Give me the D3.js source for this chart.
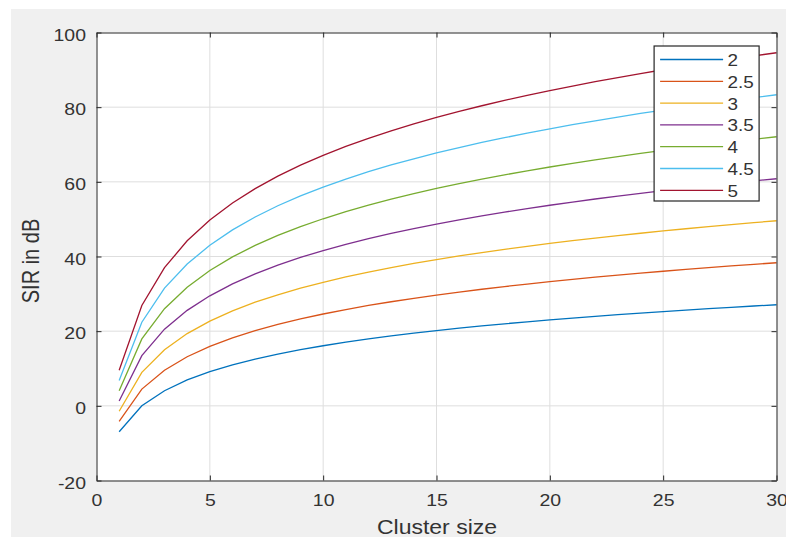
<!DOCTYPE html>
<html>
<head>
<meta charset="utf-8">
<script src="https://cdn.jsdelivr.net/npm/d3@7"></script>
<style>
    body { margin: 0; background: #fff; }
    svg { display: block; }
    text { font-family: "Liberation Sans", Arial, sans-serif; fill: #333; }
    .axis path, .axis line { stroke: #262626; }
    .grid line { stroke: #dedede; }
</style>
</head>
<body>
<svg id="chart"></svg>
<script>
// cluster sizes on the x axis
const clusterSizes = d3.range(1, 31)

// path loss exponents (legend labels)
const exponents = ['2', '2.5', '3', '3.5', '4', '4.5', '5']

// SIR in dB, one array per exponent
const sir2 = [-6.93, 0.00, 4.05, 6.93, 9.16, 10.99, 12.53, 13.86, 15.04, 16.09, 17.05, 17.92, 18.72, 19.46, 20.15, 20.79, 21.40, 21.97, 22.51, 23.03, 23.51, 23.98, 24.42, 24.85, 25.26, 25.65, 26.03, 26.39, 26.74, 27.08]
const sir25 = [-4.19, 4.48, 9.55, 13.14, 15.93, 18.21, 20.14, 21.81, 23.28, 24.60, 25.79, 26.88, 27.88, 28.80, 29.67, 30.47, 31.23, 31.94, 32.62, 33.26, 33.87, 34.45, 35.01, 35.54, 36.05, 36.54, 37.01, 37.47, 37.91, 38.33]
const sir3 = [-1.44, 8.96, 15.04, 19.36, 22.70, 25.44, 27.75, 29.75, 31.52, 33.10, 34.53, 35.83, 37.04, 38.15, 39.18, 40.15, 41.06, 41.92, 42.73, 43.50, 44.23, 44.93, 45.59, 46.23, 46.84, 47.43, 48.00, 48.54, 49.07, 49.58]
const sir35 = [1.31, 13.44, 20.53, 25.57, 29.47, 32.66, 35.36, 37.70, 39.76, 41.60, 43.27, 44.79, 46.20, 47.49, 48.70, 49.83, 50.89, 51.89, 52.84, 53.73, 54.59, 55.40, 56.18, 56.92, 57.64, 58.32, 58.98, 59.62, 60.24, 60.83]
const sir4 = [4.05, 17.92, 26.03, 31.78, 36.24, 39.89, 42.97, 45.64, 48.00, 50.11, 52.01, 53.75, 55.35, 56.84, 58.22, 59.51, 60.72, 61.86, 62.94, 63.97, 64.94, 65.88, 66.76, 67.62, 68.43, 69.22, 69.97, 70.70, 71.40, 72.08]
const sir45 = [6.80, 22.40, 31.52, 37.99, 43.01, 47.12, 50.58, 53.59, 56.24, 58.61, 60.75, 62.71, 64.51, 66.18, 67.73, 69.18, 70.55, 71.83, 73.05, 74.20, 75.30, 76.35, 77.35, 78.31, 79.23, 80.11, 80.96, 81.78, 82.57, 83.33]
const sir5 = [9.55, 26.88, 37.01, 44.20, 49.78, 54.34, 58.19, 61.53, 64.48, 67.11, 69.49, 71.67, 73.67, 75.52, 77.25, 78.86, 80.38, 81.81, 83.16, 84.44, 85.66, 86.82, 87.93, 89.00, 90.02, 91.00, 91.94, 92.85, 93.73, 94.58]

const xTicks = [0, 5, 10, 15, 20, 25, 30]
const yTicks = [-20, 0, 20, 40, 60, 80, 100]

const colors = ['#0072BD', '#D95319', '#EDB120', '#7E2F8E', '#77AC30', '#4DBEEE', '#A2142F']

// the screenshot is a bit wider than tall, text looks stretched sideways
const stretch = 1.18

class SirChart {

    constructor(_config, _data) {
        this.config = {
            parentElement: _config.parentElement,
            containerWidth: _config.containerWidth || 786,
            containerHeight: _config.containerHeight || 537,
            margin: { top: 32.5, right: 9.5, bottom: 56.5, left: 96.5 }
        }
        this.data = _data
        this.initVis()
    }

    initVis() {
        let vis = this

        vis.width = vis.config.containerWidth - vis.config.margin.left - vis.config.margin.right
        vis.height = vis.config.containerHeight - vis.config.margin.top - vis.config.margin.bottom

        vis.svg = d3.select(vis.config.parentElement)
            .attr('width', vis.config.containerWidth)
            .attr('height', vis.config.containerHeight)

        // figure background
        vis.svg.append('rect')
            .attr('x', 11)
            .attr('y', 9)
            .attr('width', vis.config.containerWidth - 11)
            .attr('height', vis.config.containerHeight - 9)
            .attr('fill', '#f0f0f0')

        vis.chart = vis.svg.append('g')
            .attr('transform', `translate(${vis.config.margin.left}, ${vis.config.margin.top})`)

        vis.chart.append('rect')
            .attr('width', vis.width)
            .attr('height', vis.height)
            .attr('fill', '#fff')

        vis.xScale = d3.scaleLinear()
            .domain([0, 30])
            .range([0, vis.width])

        vis.yScale = d3.scaleLinear()
            .domain([-20, 100])
            .range([vis.height, 0])

        vis.updateVis()
    }

    updateVis() {
        let vis = this

        vis.series = vis.data.values.map((vals, i) => ({
            name: vis.data.names[i],
            color: colors[i],
            points: vals.map((v, j) => [vis.data.x[j], v])
        }))

        vis.renderVis()
    }

    renderVis() {
        let vis = this

        // grid
        vis.chart.append('g')
            .attr('class', 'grid')
            .selectAll('line')
            .data(xTicks.slice(1, -1))
            .join('line')
                .attr('x1', d => vis.xScale(d))
                .attr('x2', d => vis.xScale(d))
                .attr('y1', 0)
                .attr('y2', vis.height)

        vis.chart.append('g')
            .attr('class', 'grid')
            .selectAll('line')
            .data(yTicks.slice(1, -1))
            .join('line')
                .attr('x1', 0)
                .attr('x2', vis.width)
                .attr('y1', d => vis.yScale(d))
                .attr('y2', d => vis.yScale(d))

        let line = d3.line()
            .x(d => vis.xScale(d[0]))
            .y(d => vis.yScale(d[1]))

        vis.chart.selectAll('.series')
            .data(vis.series)
            .join('path')
                .attr('class', 'series')
                .attr('fill', 'none')
                .attr('stroke', d => d.color)
                .attr('stroke-width', 1.3)
                .attr('d', d => line(d.points))

        // axes, ticks inside like matlab
        let xAxis = d3.axisBottom(vis.xScale).tickValues(xTicks).tickSizeInner(-5).tickSizeOuter(0)
            .tickPadding(13.5).tickFormat(d => String(d))
        let yAxis = d3.axisLeft(vis.yScale).tickValues(yTicks).tickSizeInner(-5).tickSizeOuter(0)
            .tickFormat(d => String(d))

        vis.chart.append('g')
            .attr('class', 'axis x-axis')
            .attr('transform', `translate(0, ${vis.height})`)
            .call(xAxis)
            .call(g => g.selectAll('text')
                .attr('font-size', 16.5)
                .attr('fill', '#333')
                .attr('transform', `scale(${stretch}, 1)`))

        vis.chart.append('g')
            .attr('class', 'axis y-axis')
            .call(yAxis)
            .call(g => g.selectAll('text')
                .attr('font-size', 16.5)
                .attr('fill', '#333')
                .attr('x', -10.5 / stretch)
                .attr('dy', '0.46em')
                .attr('transform', `scale(${stretch}, 1)`))

        vis.chart.append('g')
            .attr('class', 'axis')
            .call(d3.axisTop(vis.xScale).tickValues(xTicks).tickSizeInner(-5).tickSizeOuter(0).tickFormat(''))

        vis.chart.append('g')
            .attr('class', 'axis')
            .attr('transform', `translate(${vis.width}, 0)`)
            .call(d3.axisRight(vis.yScale).tickValues(yTicks).tickSizeInner(-5).tickSizeOuter(0).tickFormat(''))

        vis.chart.append('text')
            .attr('class', 'axis-title')
            .attr('transform', `translate(${vis.width / 2 + 0.5}, ${vis.height + 53}) scale(${stretch}, 1)`)
            .attr('text-anchor', 'middle')
            .attr('font-size', 19.5)
            .text('Cluster size')

        vis.chart.append('text')
            .attr('class', 'axis-title')
            .attr('transform', `translate(-57.5, ${vis.height / 2 + 4.5}) rotate(-90) scale(1, ${stretch})`)
            .attr('text-anchor', 'middle')
            .attr('font-size', 20)
            .text('SIR in dB')

        // legend
        let legend = vis.chart.append('g')
            .attr('transform', `translate(${vis.xScale(24.6)}, 13.5)`)

        legend.append('rect')
            .attr('width', 105)
            .attr('height', 155)
            .attr('fill', '#fff')
            .attr('stroke', '#262626')
            .attr('stroke-width', 1.2)

        let rows = legend.selectAll('.legend-row')
            .data(vis.series)
            .join('g')
                .attr('class', 'legend-row')
                .attr('transform', (d, i) => `translate(0, ${13.5 + i * 21.8})`)

        rows.append('line')
            .attr('x1', 6)
            .attr('x2', 69)
            .attr('stroke', d => d.color)
            .attr('stroke-width', 1.3)

        rows.append('text')
            .attr('transform', `translate(73.5, 0) scale(${stretch}, 1)`)
            .attr('dy', '0.4em')
            .attr('font-size', 16)
            .text(d => d.name)
    }
}

let sirChart = new SirChart({ parentElement: '#chart' }, {
    x: clusterSizes,
    names: exponents,
    values: [sir2, sir25, sir3, sir35, sir4, sir45, sir5]
})
</script>
</body>
</html>
